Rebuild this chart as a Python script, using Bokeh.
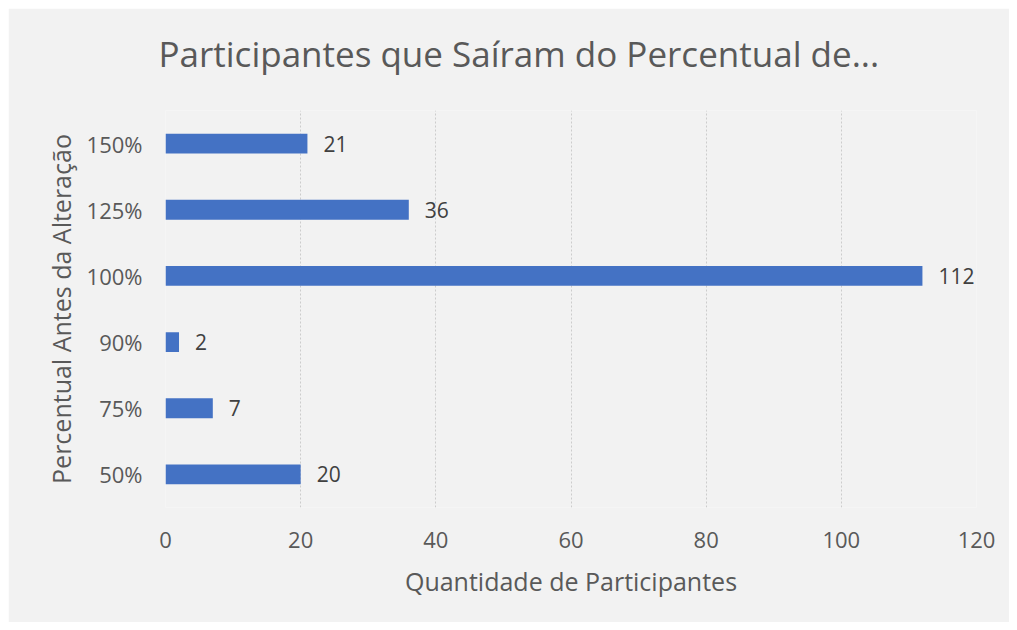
from bokeh.plotting import figure
from bokeh.models import FactorRange, Range1d, FixedTicker, ColumnDataSource, LabelSet, Title
from bokeh.core.properties import value
from bokeh.embed import file_html
from bokeh.resources import INLINE

categories = ["50%", "75%", "90%", "100%", "125%", "150%"]
values = [20, 7, 2, 112, 36, 21]
x_ticks = [0, 20, 40, 60, 80, 100, 120]
title_text = "Participantes que Saíram do Percentual de..."

FONT = "Open Sans"
TXT = "#595959"

src = ColumnDataSource(dict(cat=categories, val=values, lbl=[str(v) for v in values]))

p = figure(width=1001, height=614, output_backend="svg", toolbar_location=None,
           y_range=FactorRange(factors=categories), x_range=Range1d(0, 120),
           background_fill_color="#f2f2f2", border_fill_color="#f2f2f2",
           outline_line_color=None,
           min_border_left=157, min_border_right=33, min_border_top=102, min_border_bottom=115)
p.margin = (8, 8, 8, 8)

p.hbar(y="cat", right="val", left=0, height=0.3, source=src,
       fill_color="#4472c4", line_color=None)

labels = LabelSet(x="val", y="cat", text="lbl", source=src, x_offset=16,
                  text_baseline="middle", text_align="left",
                  text_font=value(FONT), text_font_size=value("21px"), text_color="#404040")
p.add_layout(labels)

# spacer between the title and the plot frame
p.add_layout(Title(text=" ", text_font=FONT, text_font_size="10px", standoff=0), "above")

p.title.text = title_text
p.title.text_font = FONT
p.title.text_font_size = "35px"
p.title.text_font_style = "normal"
p.title.text_color = TXT
p.title.align = "left"
p.title.offset = -7
p.title.standoff = 36

p.xaxis.ticker = FixedTicker(ticks=x_ticks)
p.xaxis.axis_label = "Quantidade de Participantes"
p.yaxis.axis_label = "Percentual Antes da Alteração"
for ax in (p.xaxis, p.yaxis):
    ax.axis_line_color = None
    ax.major_tick_line_color = None
    ax.minor_tick_line_color = None
    ax.major_label_text_font = FONT
    ax.major_label_text_font_size = "22px"
    ax.major_label_text_color = TXT
    ax.axis_label_text_font = FONT
    ax.axis_label_text_font_style = "normal"
    ax.axis_label_text_color = TXT
p.xaxis.axis_label_text_font_size = "25px"
p.yaxis.axis_label_text_font_size = "25px"
p.xaxis.major_label_standoff = 18
p.xaxis.axis_label_standoff = 13
p.yaxis.major_label_standoff = 17
p.yaxis.axis_label_standoff = 6

p.xgrid.grid_line_color = "#cccccc"
p.xgrid.grid_line_dash = "2 2"
p.ygrid.grid_line_color = None

open("out.html", "w").write(file_html(p, INLINE))
